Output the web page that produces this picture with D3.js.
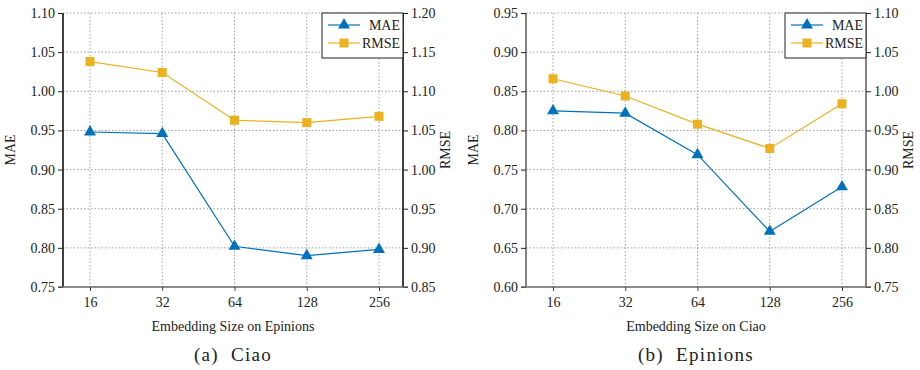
<!DOCTYPE html>
<html lang="en">
<head>
<meta charset="UTF-8">
<title>Embedding size</title>
<script src="https://cdn.jsdelivr.net/npm/d3@7"></script>
<style>
    body { margin: 0; background: #fff; }
    svg text { font-family: "Times New Roman", "Liberation Serif", Times, serif !important; fill: #222; }
    .grid line { stroke: #999; stroke-dasharray: 1.5 2; stroke-width: 0.9; }
</style>
</head>
<body>
<script>
// shared x categories
const sizes = ["16", "32", "64", "128", "256"];

// (a) Ciao
const ciaoMAE  = [0.948, 0.946, 0.802, 0.790, 0.798];
const ciaoRMSE = [1.138, 1.124, 1.063, 1.060, 1.068];
const ciaoMaeTicks  = [0.75, 0.80, 0.85, 0.90, 0.95, 1.00, 1.05, 1.10];
const ciaoRmseTicks = [0.85, 0.90, 0.95, 1.00, 1.05, 1.10, 1.15, 1.20];

// (b) Epinions
const epMAE  = [0.825, 0.822, 0.769, 0.671, 0.728];
const epRMSE = [1.016, 0.994, 0.958, 0.927, 0.984];
const epMaeTicks  = [0.60, 0.65, 0.70, 0.75, 0.80, 0.85, 0.90, 0.95];
const epRmseTicks = [0.75, 0.80, 0.85, 0.90, 0.95, 1.00, 1.05, 1.10];

const blue = "#0072BD", gold = "#EDB120";

const svg = d3.select("body").append("svg")
    .attr("width", 920).attr("height", 370)
    .attr("font-family", "Liberation Serif");

const yTop = 13, yBot = 287, plotW = 340;

function drawPanel(x0, mae, rmse, maeTicks, rmseTicks, xlabel, caption, spineColor) {
    const g = svg.append("g").attr("transform", "translate(" + x0 + ",0)");

    const x = d3.scalePoint().domain(sizes).range([27, plotW - 24]);
    const yL = d3.scaleLinear().domain(d3.extent(maeTicks)).range([yBot, yTop]);
    const yR = d3.scaleLinear().domain(d3.extent(rmseTicks)).range([yBot, yTop]);

    // grid
    const grid = g.append("g").attr("class", "grid");
    grid.selectAll(".gx").data(sizes).enter().append("line")
        .attr("x1", d => x(d)).attr("x2", d => x(d))
        .attr("y1", yTop).attr("y2", yBot);
    grid.selectAll(".gy").data(maeTicks.slice(1)).enter().append("line")
        .attr("x1", 0).attr("x2", plotW)
        .attr("y1", d => yL(d)).attr("y2", d => yL(d));

    // axes
    const axL = g.append("g")
        .call(d3.axisLeft(yL).tickValues(maeTicks).tickFormat(d3.format(".2f")).tickSize(5).tickPadding(3));
    const axR = g.append("g").attr("transform", "translate(" + plotW + ",0)")
        .call(d3.axisRight(yR).tickValues(rmseTicks).tickFormat(d3.format(".2f")).tickSize(5).tickPadding(3));
    const axB = g.append("g").attr("transform", "translate(0," + yBot + ")")
        .call(d3.axisBottom(x).tickSize(4).tickPadding(6).tickSizeOuter(0));

    [axL, axR].forEach(a => {
        a.select(".domain").attr("stroke", spineColor).attr("stroke-width", 1.6).attr("d", "M0," + yTop + "V" + yBot);
        a.selectAll(".tick line").attr("stroke", "#222");
    });
    axB.select(".domain").attr("stroke", "#666").attr("stroke-width", 1.6).attr("d", "M-5,0H" + (plotW + 5));
    axB.selectAll(".tick line").attr("stroke", "#444");
    [axL, axR, axB].forEach(a => {
        a.attr("font-family", null).attr("font-size", null);
        a.selectAll("text").style("font-size", "14px").attr("fill", "#222");
    });

    // lines
    const lineL = d3.line().x((d, i) => x(sizes[i])).y(d => yL(d));
    const lineR = d3.line().x((d, i) => x(sizes[i])).y(d => yR(d));
    g.append("path").attr("d", lineL(mae)).attr("fill", "none").attr("stroke", blue).attr("stroke-width", 1.2);
    g.append("path").attr("d", lineR(rmse)).attr("fill", "none").attr("stroke", gold).attr("stroke-width", 1.2);

    const tri = d3.symbol().type(d3.symbolTriangle).size(62);
    g.selectAll(".mae").data(mae).enter().append("path")
        .attr("d", tri)
        .attr("transform", (d, i) => "translate(" + x(sizes[i]) + "," + yL(d) + ")")
        .attr("fill", blue);
    g.selectAll(".rmse").data(rmse).enter().append("rect")
        .attr("x", (d, i) => x(sizes[i]) - 4.5).attr("y", d => yR(d) - 4.5)
        .attr("width", 9).attr("height", 9)
        .attr("fill", gold);

    // legend
    const lg = g.append("g").attr("transform", "translate(" + (plotW - 81) + "," + yTop + ")");
    lg.append("rect").attr("width", 81).attr("height", 45)
        .attr("fill", "#fff").attr("stroke", "#222").attr("stroke-width", 1);
    const items = [["MAE", blue, "tri"], ["RMSE", gold, "sq"]];
    items.forEach((it, i) => {
        const yy = 12 + i * 18;
        lg.append("line").attr("x1", 6).attr("x2", 38).attr("y1", yy).attr("y2", yy)
            .attr("stroke", it[1]).attr("stroke-width", 1.2);
        if (it[2] === "tri") {
            lg.append("path").attr("d", tri).attr("transform", "translate(22," + yy + ")").attr("fill", it[1]);
        } else {
            lg.append("rect").attr("x", 17.5).attr("y", yy - 4.5).attr("width", 9).attr("height", 9).attr("fill", it[1]);
        }
        lg.append("text").attr("x", 78).attr("y", yy + 5).attr("text-anchor", "end")
            .style("font-size", "14px").text(it[0]);
    });

    // axis titles
    g.append("text").attr("transform", "translate(" + (-48) + "," + ((yTop + yBot) / 2) + ") rotate(-90)")
        .attr("text-anchor", "middle").style("font-size", "14px").text("MAE");
    g.append("text").attr("transform", "translate(" + (plotW + 47) + "," + ((yTop + yBot) / 2) + ") rotate(-90)")
        .attr("text-anchor", "middle").style("font-size", "14px").text("RMSE");
    g.append("text").attr("x", plotW / 2).attr("y", 331)
        .attr("text-anchor", "middle").style("font-size", "14px").text(xlabel);
    g.append("text").attr("x", plotW / 2).attr("y", 361)
        .attr("text-anchor", "middle").attr("xml:space", "preserve")
        .style("font-size", "19px").style("letter-spacing", "1.3px").text(caption);
}

drawPanel(63, ciaoMAE, ciaoRMSE, ciaoMaeTicks, ciaoRmseTicks,
    "Embedding Size on Epinions", "(a)  Ciao", "#111");
drawPanel(526, epMAE, epRMSE, epMaeTicks, epRmseTicks,
    "Embedding Size on Ciao", "(b)  Epinions", "#666");
</script>
</body>
</html>
